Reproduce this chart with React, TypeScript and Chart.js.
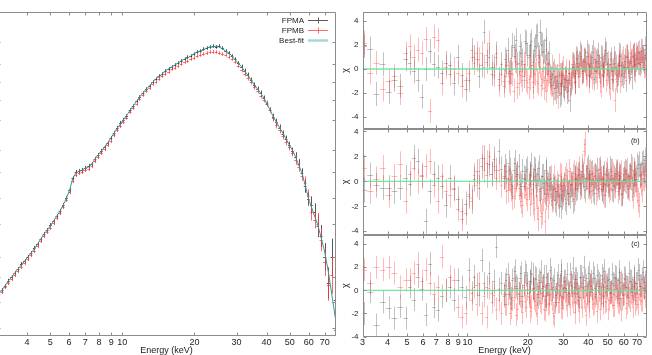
import React, { useEffect, useRef } from 'react';
import { Chart, registerables } from 'chart.js';
Chart.register(...registerables);

const FONT = '"Liberation Sans", Arial, Helvetica, sans-serif';
Chart.defaults.font.family = FONT;
Chart.defaults.color = '#222';

// ---------- shared axis ----------
const X_TICKS = [3, 4, 5, 6, 7, 8, 9, 10, 20, 30, 40, 50, 60, 70];
const X_MIN = 3;
const X_MAX = 78;

// ---------- spectrum (left) ----------
const SPEC_ENERGY = [
  3.05, 3.15, 3.25, 3.35, 3.45, 3.56, 3.67, 3.79, 3.91, 4.03,
  4.16, 4.29, 4.43, 4.57, 4.71, 4.86, 5.01, 5.17, 5.33, 5.50,
  5.67, 5.85, 6.03, 6.22, 6.41, 6.61, 6.81, 7.02, 7.24, 7.46,
  7.69, 7.93, 8.18, 8.43, 8.69, 8.96, 9.24, 9.53, 9.83, 10.1,
  10.4, 10.8, 11.1, 11.5, 11.8, 12.2, 12.6, 13.0, 13.4, 13.8,
  14.2, 14.7, 15.1, 15.6, 16.1, 16.6, 17.1, 17.6, 18.2, 18.7,
  19.3, 19.9, 20.5, 21.2, 21.8, 22.5, 23.2, 23.9, 24.7, 25.4,
  26.2, 27.0, 27.9, 28.7, 29.6, 30.5, 31.5, 32.4, 33.4, 34.5,
  35.6, 36.7, 37.8, 39.0, 40.2, 41.4, 42.7, 44.0, 45.4, 46.8,
  48.3, 49.8, 51.3, 52.9, 54.5, 56.2, 58.0, 59.8, 61.6, 63.5,
  65.5, 67.5, 70.0, 72.5, 75.0, 77.5,
];
const SPEC_FPMA = [
  1.82, 1.92, 2.03, 2.19, 2.31, 2.45, 2.59, 2.78, 2.90, 3.07,
  3.25, 3.49, 3.70, 3.97, 4.26, 4.51, 4.84, 5.13, 5.50, 5.91,
  6.44, 7.11, 7.96, 9.45, 10.28, 10.43, 10.59, 10.89, 11.20, 11.53,
  12.38, 13.10, 13.87, 14.68, 15.54, 16.68, 17.91, 19.23, 20.64, 21.54,
  22.80, 24.84, 26.29, 28.22, 29.88, 31.62, 33.47, 34.93, 36.98, 38.59,
  40.27, 41.43, 43.24, 44.49, 45.77, 47.09, 48.44, 49.84, 51.28, 52.76,
  53.51, 55.05, 56.64, 57.45, 59.10, 59.95, 60.81, 61.67, 60.81, 61.67,
  59.95, 57.45, 55.84, 53.51, 51.28, 48.44, 45.77, 43.24, 40.84, 38.04,
  35.44, 33.47, 31.62, 29.46, 27.04, 24.84, 22.48, 20.94, 19.23, 17.66,
  16.44, 15.10, 13.87, 12.73, 11.53, 10.14, 8.43, 7.01, 6.44, 5.83,
  4.78, 4.14, 3.07, 2.12, 3.07, 1.67,
];
const SPEC_FPMB = [
  1.79, 1.87, 2.01, 2.12, 2.25, 2.38, 2.52, 2.67, 2.82, 2.99,
  3.16, 3.35, 3.59, 3.86, 4.14, 4.39, 4.64, 4.98, 5.35, 5.74,
  6.26, 6.91, 7.74, 9.05, 9.86, 10.14, 10.28, 10.59, 10.74, 11.20,
  12.03, 12.73, 13.48, 14.27, 15.10, 15.99, 17.41, 18.69, 19.78, 20.94,
  22.16, 24.14, 25.55, 27.04, 29.05, 30.74, 32.53, 33.95, 35.94, 36.98,
  38.59, 40.27, 41.43, 42.62, 44.49, 45.13, 46.42, 47.76, 49.14, 49.84,
  51.28, 52.01, 53.51, 54.28, 55.05, 55.84, 56.64, 56.64, 56.64, 55.84,
  55.05, 54.28, 52.76, 51.28, 49.14, 46.42, 43.85, 41.43, 39.14, 36.98,
  34.44, 32.53, 30.31, 28.64, 27.43, 24.84, 22.16, 20.06, 18.69, 17.16,
  15.76, 14.68, 13.48, 12.20, 11.05, 9.72, 8.80, 7.31, 5.83, 5.20,
  4.91, 3.91, 2.86, 2.06, 2.38, 1.09,
];
const SPEC_MODEL = [
  1.82, 1.92, 2.06, 2.19, 2.31, 2.45, 2.59, 2.74, 2.90, 3.07,
  3.25, 3.44, 3.70, 3.97, 4.26, 4.51, 4.78, 5.13, 5.50, 5.91,
  6.44, 7.11, 7.96, 9.45, 10.14, 10.43, 10.59, 10.89, 11.05, 11.53,
  12.38, 13.10, 13.87, 14.68, 15.54, 16.68, 17.91, 19.23, 20.35, 21.54,
  22.80, 24.84, 26.29, 28.22, 29.88, 31.62, 33.47, 34.93, 36.98, 38.59,
  39.70, 41.43, 43.24, 44.49, 45.77, 47.09, 48.44, 49.84, 51.28, 52.01,
  53.51, 55.05, 56.64, 57.45, 58.27, 59.95, 60.81, 60.81, 61.67, 60.81,
  59.10, 57.45, 55.84, 53.51, 50.56, 48.44, 45.77, 43.24, 40.84, 38.04,
  35.44, 33.47, 31.62, 29.46, 27.04, 24.84, 22.48, 20.94, 19.23, 17.91,
  16.44, 15.10, 14.07, 12.73, 11.36, 10.14, 8.55, 7.11, 6.26, 5.50,
  4.84, 4.08, 3.30, 2.48, 1.79, 1.29,
];
const SPEC_REL_ERR = [
  0.03, 0.03, 0.03, 0.03, 0.03, 0.03, 0.03, 0.03, 0.03, 0.03,
  0.03, 0.03, 0.03, 0.03, 0.03, 0.03, 0.03, 0.03, 0.03, 0.03,
  0.03, 0.03, 0.03, 0.03, 0.03, 0.03, 0.03, 0.03, 0.03, 0.03,
  0.03, 0.03, 0.03, 0.03, 0.03, 0.03, 0.03, 0.03, 0.03, 0.03,
  0.025, 0.025, 0.025, 0.025, 0.025, 0.025, 0.025, 0.025, 0.025, 0.025,
  0.025, 0.025, 0.025, 0.025, 0.025, 0.025, 0.025, 0.025, 0.025, 0.025,
  0.025, 0.025, 0.025, 0.025, 0.025, 0.025, 0.025, 0.025, 0.025, 0.025,
  0.025, 0.025, 0.025, 0.025, 0.025, 0.025, 0.035, 0.035, 0.035, 0.035,
  0.035, 0.035, 0.035, 0.035, 0.035, 0.035, 0.05, 0.05, 0.05, 0.05,
  0.05, 0.05, 0.05, 0.07, 0.07, 0.07, 0.1, 0.1, 0.13, 0.13,
  0.17, 0.17, 0.22, 0.25, 0.3, 0.35,
];
const SPEC_Y_MIN = 1;
const SPEC_Y_MAX = 100;
const SPEC_Y_TICKS = [65.3, 47.8, 37.0, 28.6, 21.5, 14.1, 10.3, 7.1, 4.9, 3.07, 2.31, 1.62, 1.12];

// ---------- residuals (right) ----------
const RES_ENERGY = [
  3.05, 3.28, 3.52, 3.78, 4.05, 4.33, 4.63, 4.95,
  5.15, 5.40, 5.65, 5.92, 6.20, 6.50, 6.80, 7.12, 7.45, 7.80, 8.17, 8.55, 8.95, 9.37, 9.80,
  10.2, 10.5, 10.8, 11.1, 11.4, 11.75, 12.1, 12.45, 12.8, 13.2, 13.55, 13.95, 14.35, 14.75,
  15.2, 15.6, 16.05, 16.5, 17.0, 17.5, 18.0, 18.5, 19.05, 19.6,
  20.2, 20.6, 21.1, 21.5, 22.0, 22.5, 23.0, 23.5, 24.0, 24.5, 25.0, 25.6, 26.1, 26.7,
  27.3, 27.9, 28.5, 29.1, 29.7, 30.4, 31.0, 31.7, 32.4, 33.1, 33.8, 34.5, 35.3, 36.0,
  36.8, 37.6, 38.4, 39.3, 40.1, 41.0, 41.9, 42.8, 43.7, 44.7, 45.6, 46.6, 47.6, 48.7,
  49.7, 50.8, 51.9, 53.0, 54.2, 55.4, 56.6, 57.8, 59.1, 60.4, 61.7, 63.0, 64.4, 65.8,
  67.2, 68.7, 70.2, 71.7, 73.3, 74.9, 76.5,
];
// extra (interleaved) bins above 15 keV, where the binning gets dense
const RES_ENERGY_HI = [
  15.4, 15.85, 16.3, 16.75, 17.25, 17.75, 18.25, 18.8, 19.35, 19.9,
  20.4, 20.85, 21.3, 21.75, 22.25, 22.75, 23.25, 23.75, 24.25, 24.75,
  25.3, 25.85, 26.4, 27.0, 27.6, 28.2, 28.8, 29.4, 30.05, 30.7,
  31.35, 32.05, 32.75, 33.45, 34.15, 34.9, 35.65, 36.4, 37.2, 38.0,
  38.85, 39.7, 40.55, 41.45, 42.35, 43.25, 44.2, 45.15, 46.1, 47.1,
  48.15, 49.2, 50.25, 51.35, 52.45, 53.6, 54.8, 56.0, 57.2, 58.45,
  59.75, 61.05, 62.35, 63.7, 65.1, 66.5, 67.95, 69.45, 70.95, 72.5,
  74.1, 75.7, 77.2,
];
const RES_ERR = 1;
const RES_Y_TICKS = [-4, -2, 0, 2, 4];

const RES_A_FPMA = [
  1.9, 1.7, -2.1, 0.4, -1.9, -0.9, -1.4, 0.8, 0.5, -0.2,
  -0.9, -2.3, 0.0, 1.5, 0.4, 0.2, -0.3, 0.5, 0.3, -1.2,
  1.0, -0.5, -1.7, -0.9, 1.6, 1.0, 0.8, -0.6, 0.3, 3.1,
  0.6, 1.0, -0.4, 0.2, 1.3, -0.8, 0.4, -1.0, 0.6, -0.3,
  0.9, 1.8, 2.4, 0.5, 1.3, -0.6, 2.2, 1.0, 2.0, 0.3,
  1.6, 2.7, 1.2, 3.1, 2.0, 1.5, 2.4, 0.4, 1.3, -0.8,
  -0.4, -1.6, -0.6, -1.2, -2.0, -0.3, -1.5, -0.9, -1.8, -2.6,
  -0.7, 0.2, -1.1, 0.8, 0.5, 1.1, -0.2, 0.7, 1.4, -0.5,
  0.3, 1.0, -0.8, 0.6, 1.2, -0.3, 0.9, 0.1, 1.6, 0.4,
  -0.6, 0.8, -0.2, 0.5, -1.0, 0.3, 1.1, -0.4, 0.2, -0.9,
  0.6, 0.0, -0.7, 1.2, 0.4, 1.0, 0.5, 1.5, 0.8, 1.7,
];
const RES_A_FPMB = [
  2.2, -0.3, 0.5, -1.7, -1.0, -0.6, -2.0, 1.3, 1.9, 1.0,
  1.6, 1.3, 2.5, -3.5, 2.7, 2.4, -1.2, 0.2, -0.4, 0.0,
  -0.3, -1.4, -0.9, -0.3, 1.0, 0.5, 1.3, 0.8, 1.3, 0.2,
  1.2, 2.2, 0.2, -0.5, 1.0, -1.3, -0.4, -1.4, 0.3, -1.0,
  -0.3, -1.8, 0.6, -1.2, -0.5, 0.4, -0.9, -1.5, 0.2, -1.1,
  -0.3, 0.8, -1.2, 0.2, -0.8, -1.6, 0.5, -0.9, -0.2, -1.3,
  -2.0, -0.6, -1.4, 0.3, -1.2, -0.5, -1.7, -0.2, -0.9, -1.3,
  0.4, -0.3, -1.0, 0.5, -0.6, 0.9, -0.1, 0.6, -0.4, 1.0,
  0.2, -0.7, 0.8, -0.2, 0.5, -1.0, 0.3, -0.6, 1.2, -0.4,
  -1.2, 0.4, -0.9, -2.6, -0.5, 0.3, -1.0, 0.6, -0.3, 1.0,
  0.2, 1.3, 0.7, 1.1, -0.2, 0.9, 1.4, 0.6, 1.0, 0.3,
];
const RES_A_FPMA_HI = [
  0.8, 1.6, -0.2, 2.0, 1.1, 0.4, 1.9, 0.7, 2.3, 1.2,
  1.2, 2.3, 0.6, 1.9, 2.8, 1.0, 2.1, 1.4, 0.2, 1.7,
  0.5, -0.6, -1.3, -0.2, -1.9, -1.0, -2.2, -0.5, -1.4, -0.8,
  -1.9, -0.3, -1.2, 0.4, -0.6, 0.9, 0.2, 1.3, -0.3, 0.8,
  0.1, 1.1, -0.6, 0.5, 1.4, -0.2, 0.7, 0.2, 1.0, -0.5,
  0.6, 1.3, -0.1, 0.4, -0.8, 0.9, 0.2, -0.4, 1.2, 0.3,
  -0.6, 0.7, 1.0, -0.2, 0.5, 1.1, 0.0, 0.8, 1.3, 0.4,
  1.0, 0.6, 1.2,
];
const RES_A_FPMB_HI = [
  -0.6, 0.3, -1.2, -0.4, 0.7, -1.5, -0.2, -0.9, 0.4, -1.1,
  -0.8, 0.3, -1.5, -0.4, -1.0, 0.6, -1.3, -0.2, -0.9, -1.8,
  -0.4, -1.1, 0.2, -1.6, -0.7, -2.3, -0.5, -1.2, 0.1, -0.8,
  -1.5, -0.3, -0.9, 0.2, -1.1, 0.5, -0.6, 0.3, -0.2, 0.7,
  -0.5, 0.4, -1.0, 0.1, -0.3, 0.8, -0.7, 0.2, -1.4, -0.4,
  0.3, -0.9, 0.5, -1.6, -0.2, 0.4, -0.8, 0.1, 0.6, -0.5,
  0.9, 0.2, 1.1, -0.3, 0.7, 1.0, 0.3, 1.2, 0.5, 0.8,
  1.5, 0.2, 0.9,
];
const RES_B_FPMA = [
  -0.7, 0.5, -0.3, -0.5, -0.5, -0.8, -0.5, 0.3, -0.2, 1.9,
  1.6, 0.4, -3.2, -0.8, 0.6, 0.3, -0.4, -1.9, 0.3, -0.6,
  -1.4, -2.4, -1.8, -1.2, -1.6, 0.2, 0.8, -0.5, 1.2, 1.9,
  0.5, 1.4, 0.6, 1.8, 0.9, 2.4, 1.0, 0.3, 0.8, 1.5,
  -0.2, 0.9, 0.4, 1.2, -0.4, 0.3, 0.8, -0.5, 0.5, 0.1,
  1.0, -0.3, 0.6, -0.8, 0.4, -0.1, 0.9, -0.6, 0.2, -1.0,
  -0.4, -1.5, -0.8, -1.9, -0.6, -1.3, -0.3, -1.7, -0.9, -1.2,
  -0.2, -1.4, 0.3, -0.5, 0.6, -0.2, 0.4, -0.7, 0.9, 0.0,
  -0.4, 0.7, -0.9, 0.3, -0.3, 1.0, -0.6, 0.2, -1.1, 0.5,
  -0.2, 0.8, -0.7, 0.1, 0.6, -0.5, 0.4, -0.9, 0.2, 0.7,
  -0.3, 0.5, -0.6, 0.9, 0.1, 1.3, 1.4, 0.6, 1.5, 1.7,
];
const RES_B_FPMB = [
  1.1, -0.8, 0.2, 1.1, -1.1, 0.4, 1.4, -1.6, 0.6, 1.1,
  0.0, 0.5, 1.2, 1.6, -0.3, -1.6, 0.4, -0.8, -1.1, -0.5,
  -2.2, -3.0, -2.5, -1.0, -1.3, 0.5, -0.3, 0.8, 1.9, 0.9,
  1.5, 2.0, 0.6, 1.2, 0.3, 0.9, -0.3, 0.4, -0.8, 0.2,
  -0.6, -1.2, 0.1, -0.5, -1.6, -0.4, -1.0, -0.2, -1.8, -0.6,
  -2.2, -1.1, -3.0, -1.5, -2.5, -0.7, -1.3, -0.1, -0.9, 0.3,
  -1.4, -0.5, -0.2, -1.2, 0.4, -0.8, -0.3, 0.5, -1.0, 0.1,
  -0.6, 0.7, -0.3, 0.2, 1.0, -0.4, 0.6, 3.0, 0.3, -0.5,
  0.8, -0.2, 0.4, -0.9, 0.1, 0.7, -0.6, 0.3, -0.2, 0.9,
  -0.7, 0.2, 0.5, -0.4, 0.8, -0.1, 0.3, -1.0, 0.6, 0.0,
  -0.5, 0.4, 1.0, -0.3, 0.6, -0.8, -1.9, -0.2, 0.3, 0.5,
];
const RES_B_FPMA_HI = [
  1.2, 0.3, 0.9, -0.4, 1.5, 0.6, -0.2, 0.8, 0.2, 1.0,
  0.6, 1.3, -0.2, 0.9, 0.1, 1.1, -0.5, 0.4, -0.9, 0.7,
  -0.3, 0.2, -1.2, -0.6, -1.8, -0.4, -1.1, -2.0, -0.7, -1.4,
  0.0, -0.9, -0.3, -1.6, 0.2, -0.6, 0.5, -0.1, 0.8, -0.4,
  0.3, 1.1, -0.2, 0.6, -0.7, 0.4, 0.9, -0.5, 0.2, -0.8,
  0.6, 0.1, -0.3, 1.0, -0.6, 0.3, 0.7, -0.2, 0.5, -1.0,
  0.1, 0.8, -0.4, 0.4, 1.2, -0.1, 0.6, 0.2, 1.1, 0.5,
  1.4, 0.8, 1.9,
];
const RES_B_FPMB_HI = [
  0.4, -0.7, 0.1, -1.3, -0.5, 0.6, -1.1, -1.9, -0.4, -1.4,
  0.2, -0.9, -1.7, 0.4, -2.1, -0.6, -2.8, -1.4, -3.2, -1.0,
  -2.0, -0.4, -1.5, 0.3, -0.8, -1.2, 0.5, -0.3, -1.0, 0.2,
  -0.6, 0.8, -0.2, 0.4, -0.9, 0.6, 0.1, -0.5, 1.2, 2.4,
  0.3, -0.4, 0.7, -0.8, 0.2, 0.5, -0.6, 0.9, -0.2, 0.3,
  -1.1, 0.6, 0.0, -0.5, 0.8, -0.3, 0.4, -0.8, 0.2, 0.7,
  -0.4, 0.1, 0.9, -0.6, 0.3, -1.2, 0.5, -0.2, -1.5, 0.4,
  -0.7, 0.2, 0.6,
];
const RES_C_FPMA = [
  -2.0, -0.1, -3.0, -1.0, -1.5, -2.4, -1.4, -2.4, 0.3, -0.8,
  1.2, 0.1, -2.1, 2.3, -1.4, -1.7, -0.5, 0.0, 0.3, -0.8,
  0.9, 0.3, -0.6, 1.8, -0.2, 1.2, 0.5, -0.4, 2.6, 0.6,
  0.3, 1.5, -0.2, 0.8, 3.8, 0.1, 0.6, -0.5, 0.9, 0.2,
  -0.7, 1.1, 0.4, -0.3, 1.5, 0.5, 1.3, -0.2, 0.8, 1.4,
  0.0, 1.0, -0.6, 0.7, 0.2, 1.2, -0.8, 0.5, -0.4, 1.1,
  0.3, -1.0, 0.6, 0.1, 1.3, -0.5, 0.8, 0.2, -0.3, 1.4,
  0.4, -0.2, 1.0, 0.6, -0.6, 1.2, 0.3, 0.9, -0.4, 1.5,
  0.5, 0.1, 1.1, -0.3, 0.8, 0.4, 1.3, -0.5, 0.7, 0.2,
  1.0, -0.1, 0.6, 1.2, 0.0, 0.9, -0.7, 0.5, 1.1, 0.3,
  -0.4, 0.8, 0.2, 1.0, -0.2, 0.6, 1.3, 0.4, 1.6, 0.7,
];
const RES_C_FPMB = [
  1.8, 0.6, 2.0, 1.8, 2.0, 1.5, 0.3, 0.9, 0.9, 1.5,
  2.3, 0.8, 1.8, 0.6, -0.3, 0.3, 2.9, 0.0, 1.2, 0.9,
  -1.4, -2.3, -2.0, 0.1, -0.8, 0.3, -1.2, 0.6, -2.0, -0.5,
  -2.3, 0.2, -1.0, -0.4, -1.6, -0.8, -2.0, -0.3, -1.2, 0.4,
  -1.5, -0.6, -2.1, -0.2, -0.9, 0.3, -1.4, -0.5, -1.8, 0.1,
  -0.7, -1.3, 0.4, -0.9, -0.2, -1.6, -0.4, 0.5, -1.1, -0.3,
  -2.0, -0.6, 0.2, -1.0, -0.4, -1.5, 0.3, -0.8, -0.1, -1.2,
  -0.5, 0.6, -1.0, -0.3, -1.8, -0.6, 0.2, -0.9, -0.2, -1.4,
  0.4, -0.7, -1.1, 0.0, -0.6, -1.6, 0.3, -0.4, -1.0, 0.5,
  -0.8, -0.2, -1.3, 0.1, -0.5, -1.1, 0.6, -0.7, -0.3, -1.5,
  0.2, -0.9, -0.4, 0.4, -1.2, -0.6, 0.1, -0.8, 0.3, -0.5,
];
const RES_C_FPMA_HI = [
  0.5, 1.4, -0.3, 0.9, 1.7, 0.2, 1.1, -0.5, 1.6, 0.6,
  0.8, 1.5, 0.2, 1.1, -0.3, 0.9, 1.6, 0.4, -0.5, 1.2,
  0.6, 1.8, 0.1, 0.9, -0.4, 1.3, 0.5, 1.7, 0.2, 0.8,
  1.4, -0.2, 0.7, 1.9, 0.3, 1.0, -0.5, 1.2, 0.6, 2.0,
  0.4, 1.1, -0.1, 0.8, 1.5, 0.2, 1.3, 0.6, -0.3, 1.0,
  1.7, 0.4, 0.9, -0.2, 1.4, 0.5, 1.1, 0.1, 1.6, 0.7,
  -0.4, 1.0, 0.3, 1.5, 0.8, -0.1, 1.2, 0.6, 1.8, 0.4,
  1.0, 0.2, 1.3,
];
const RES_C_FPMB_HI = [
  -1.2, -0.3, -2.0, -0.8, 0.2, -1.6, -0.5, -1.9, -0.9, 0.1,
  -0.6, -1.4, 0.2, -0.9, -2.0, -0.3, -1.1, 0.4, -1.7, -0.5,
  -1.2, 0.1, -0.8, -2.2, -0.4, -1.0, 0.3, -1.5, -0.7, -0.1,
  -1.3, -0.5, 0.5, -1.0, -1.9, -0.2, -0.8, 0.2, -1.4, -0.6,
  -2.1, -0.3, -0.9, 0.4, -1.2, -0.5, -1.8, 0.0, -0.7, -1.1,
  0.3, -0.9, -1.6, -0.2, -0.6, -1.3, 0.2, -1.0, -0.4, -1.7,
  -0.3, 0.5, -1.1, -0.6, -0.2, -1.4, 0.1, -0.8, -1.2, -0.3,
  -0.9, 0.2, -0.6,
];

// ---------- helpers ----------
function binEdges(E: number[], i: number, frac: number) {
  const prev = i > 0 ? E[i - 1] : (E[i] * E[i]) / E[i + 1];
  const next = i < E.length - 1 ? E[i + 1] : (E[i] * E[i]) / E[i - 1];
  return [E[i] * Math.pow(prev / E[i], frac), E[i] * Math.pow(next / E[i], frac)];
}

function specPoints(vals: number[]) {
  return SPEC_ENERGY.map((e, i) => {
    const [xl, xh] = binEdges(SPEC_ENERGY, i, 0.42);
    const r = SPEC_REL_ERR[i];
    const v = vals[i];
    return { x: e, y: v, xl, xh, yl: v / (1 + r), yh: v * (1 + r) };
  });
}

function resPoints(E: number[], vals: number[], frac: number) {
  return E.map((e, i) => {
    const [xl, xh] = binEdges(E, i, frac);
    return { x: e, y: vals[i], xl, xh, yl: vals[i] - RES_ERR, yh: vals[i] + RES_ERR };
  });
}

const errorBarPlugin = {
  id: 'errorBars',
  beforeDatasetsDraw(chart: any) {
    const { ctx, chartArea: a } = chart;
    const xs = chart.scales.x;
    const ys = chart.scales.y;
    ctx.save();
    ctx.beginPath();
    ctx.rect(a.left, a.top, a.right - a.left, a.bottom - a.top);
    ctx.clip();
    ctx.lineWidth = 1;
    chart.data.datasets.forEach((ds: any) => {
      if (!ds.errorBars) return;
      ctx.strokeStyle = ds.errorColor;
      for (const p of ds.data) {
        const px = Math.round(xs.getPixelForValue(p.x)) + 0.5;
        const py = Math.round(ys.getPixelForValue(p.y)) + 0.5;
        ctx.beginPath();
        ctx.moveTo(xs.getPixelForValue(p.xl), py);
        ctx.lineTo(xs.getPixelForValue(p.xh), py);
        ctx.moveTo(px, ys.getPixelForValue(p.yh));
        ctx.lineTo(px, ys.getPixelForValue(p.yl));
        ctx.stroke();
      }
    });
    ctx.restore();
  },
};

function makeFrame(o: any) {
  return {
    id: 'frame',
    afterDraw(chart: any) {
      const { ctx, chartArea: a } = chart;
      const xs = chart.scales.x;
      const ys = chart.scales.y;
      const L = Math.round(a.left) + 0.5;
      const R = Math.round(a.right) - 0.5;
      const T = Math.round(a.top) + 0.5;
      const B = Math.round(a.bottom) - 0.5;
      ctx.save();
      ctx.lineWidth = 1;
      ctx.strokeStyle = '#8c8c8c';
      ctx.beginPath();
      ctx.rect(L, T, R - L, B - T);
      ctx.stroke();
      ctx.beginPath();
      for (const v of o.xTicks) {
        const px = Math.round(xs.getPixelForValue(v)) + 0.5;
        ctx.moveTo(px, T);
        ctx.lineTo(px, T + o.tick);
        ctx.moveTo(px, B);
        ctx.lineTo(px, B - o.tick);
      }
      for (const v of o.yTicks) {
        const py = Math.round(ys.getPixelForValue(v)) + 0.5;
        ctx.moveTo(L, py);
        ctx.lineTo(L + o.tick, py);
        ctx.moveTo(R, py);
        ctx.lineTo(R - o.tick, py);
      }
      ctx.stroke();
      if (o.tag) {
        ctx.fillStyle = '#222';
        ctx.font = `7px ${FONT}`;
        ctx.textAlign = 'right';
        ctx.textBaseline = 'middle';
        ctx.fillText(o.tag, a.right - 7, a.top + o.tagDy);
      }
      if (o.legend) {
        o.legend.forEach((it: any) => {
          const ds = chart.data.datasets[it.index];
          const y = Math.round(a.top + it.dy) + 0.5;
          ctx.fillStyle = '#222';
          ctx.font = `8px ${FONT}`;
          ctx.textAlign = 'right';
          ctx.textBaseline = 'middle';
          ctx.fillText(ds.label, a.right - 32, y);
          ctx.strokeStyle = it.color;
          ctx.lineWidth = it.width;
          ctx.beginPath();
          ctx.moveTo(a.right - 28, y);
          ctx.lineTo(a.right - 8, y);
          if (it.cross) {
            const cx = Math.round(a.right - 18) + 0.5;
            ctx.moveTo(cx, y - 3);
            ctx.lineTo(cx, y + 3);
          }
          ctx.stroke();
        });
      }
      ctx.restore();
    },
  };
}

const xLabelTicks = (vals: number[]) => (s: any) => {
  s.ticks = vals.map((v) => ({ value: v }));
};
const fitX = (h: number) => (s: any) => {
  s.height = h;
  s.paddingLeft = 0;
  s.paddingRight = 0;
  s.paddingTop = 0;
  s.paddingBottom = 0;
};
const fitY = (w: number) => (s: any) => {
  s.width = w;
  s.paddingLeft = 0;
  s.paddingRight = 0;
  s.paddingTop = 0;
  s.paddingBottom = 0;
};

function spectrumConfig(): any {
  return {
    type: 'scatter',
    data: {
      datasets: [
        { label: 'FPMA', data: specPoints(SPEC_FPMA), errorBars: true, errorColor: 'rgba(45,45,45,0.8)', pointRadius: 0, pointHoverRadius: 0 },
        { label: 'FPMB', data: specPoints(SPEC_FPMB), errorBars: true, errorColor: 'rgba(255,55,55,0.75)', pointRadius: 0, pointHoverRadius: 0 },
        {
          type: 'line', label: 'Best-fit',
          data: SPEC_ENERGY.map((e, i) => ({ x: e, y: SPEC_MODEL[i] })),
          borderColor: '#2f9c9c', borderWidth: 1, pointRadius: 0, fill: false, tension: 0,
        },
      ],
    },
    options: {
      responsive: false,
      animation: false,
      events: [],
      layout: { padding: { top: 12, right: 2, left: 0, bottom: 0 } },
      plugins: { legend: { display: false }, tooltip: { enabled: false } },
      scales: {
        x: {
          type: 'logarithmic', min: X_MIN, max: X_MAX, bounds: 'data',
          grid: { display: false, drawTicks: false }, border: { display: false },
          afterBuildTicks: xLabelTicks(X_TICKS.slice(1)),
          afterFit: fitX(19),
          ticks: { autoSkip: false, maxRotation: 0, padding: 1, font: { size: 9 }, color: '#222', callback: (v: any) => String(v) },
          title: { display: true, text: 'Energy (keV)', font: { size: 9, lineHeight: 1 }, padding: 0, color: '#222' },
        },
        y: {
          type: 'logarithmic', min: SPEC_Y_MIN, max: SPEC_Y_MAX, bounds: 'data', display: false,
          grid: { display: false, drawTicks: false },
          afterFit: fitY(0),
        },
      },
    },
    plugins: [
      errorBarPlugin,
      makeFrame({
        xTicks: X_TICKS, yTicks: SPEC_Y_TICKS, tick: 3,
        legend: [
          { index: 0, dy: 8, color: '#5a5a5a', width: 1, cross: true },
          { index: 1, dy: 18, color: '#ff6a6a', width: 1, cross: true },
          { index: 2, dy: 28, color: '#a6d8d8', width: 2.5, cross: false },
        ],
      }),
    ],
  };
}

const RES_BLACK = 'rgba(70,70,70,0.33)';
const RES_RED = 'rgba(255,45,45,0.33)';

function residualConfig(p: any): any {
  return {
    type: 'scatter',
    data: {
      datasets: [
        { label: 'FPMA', data: resPoints(RES_ENERGY, p.a, 0.5), errorBars: true, errorColor: RES_BLACK, pointRadius: 0, pointHoverRadius: 0 },
        { label: 'FPMA hi', data: resPoints(RES_ENERGY_HI, p.aHi, 0.5), errorBars: true, errorColor: RES_BLACK, pointRadius: 0, pointHoverRadius: 0 },
        { label: 'FPMB', data: resPoints(RES_ENERGY, p.b, 0.5), errorBars: true, errorColor: RES_RED, pointRadius: 0, pointHoverRadius: 0 },
        { label: 'FPMB hi', data: resPoints(RES_ENERGY_HI, p.bHi, 0.5), errorBars: true, errorColor: RES_RED, pointRadius: 0, pointHoverRadius: 0 },
        {
          type: 'line', label: 'zero',
          data: [{ x: X_MIN, y: 0 }, { x: X_MAX, y: 0 }],
          borderColor: 'rgba(100,230,150,0.9)', borderWidth: 1.3, pointRadius: 0, fill: false,
        },
      ],
    },
    options: {
      responsive: false,
      animation: false,
      events: [],
      layout: { padding: { top: p.padTop, right: 5.5, left: 0, bottom: 0 } },
      plugins: { legend: { display: false }, tooltip: { enabled: false } },
      scales: {
        x: {
          type: 'logarithmic', min: X_MIN, max: X_MAX, bounds: 'data', display: p.showX,
          grid: { display: false, drawTicks: false }, border: { display: false },
          afterBuildTicks: xLabelTicks(X_TICKS),
          afterFit: fitX(p.showX ? 18.5 : 0),
          ticks: { autoSkip: false, maxRotation: 0, padding: 1, font: { size: 9 }, color: '#222', callback: (v: any) => String(v) },
          title: { display: true, text: 'Energy (keV)', font: { size: 9, lineHeight: 1 }, padding: 0, color: '#222' },
        },
        y: {
          type: 'linear', min: p.yMin, max: p.yMax, bounds: 'data',
          grid: { display: false, drawTicks: false }, border: { display: false },
          afterBuildTicks: (s: any) => { s.ticks = RES_Y_TICKS.map((v) => ({ value: v })); },
          afterFit: fitY(22.5),
          ticks: { padding: 4, font: { size: 8 }, color: '#222', callback: (v: any) => String(v) },
          title: { display: true, text: 'χ', font: { size: 9, lineHeight: 1 }, padding: { top: 1, bottom: 0 }, color: '#222' },
        },
      },
    },
    plugins: [errorBarPlugin, makeFrame({ xTicks: X_TICKS, yTicks: RES_Y_TICKS, tick: 3, tag: p.tag, tagDy: p.tagDy })],
  };
}

function ChartCanvas({ left, top, width, height, make }: any) {
  const ref = useRef<HTMLCanvasElement | null>(null);
  useEffect(() => {
    const chart = new Chart(ref.current as any, make());
    return () => chart.destroy();
  }, []);
  return (
    <canvas
      ref={ref}
      width={width}
      height={height}
      style={{ position: 'absolute', left, top, width, height }}
    />
  );
}

export default function App() {
  return (
    <div style={{ position: 'absolute', left: 0, top: 0, width: 652, height: 355, overflow: 'hidden', background: '#fff' }}>
      <ChartCanvas left={-3} top={0} width={341} height={355} make={spectrumConfig} />
      <ChartCanvas left={340} top={0} width={312} height={129}
        make={() => residualConfig({ a: RES_A_FPMA, b: RES_A_FPMB, aHi: RES_A_FPMA_HI, bHi: RES_A_FPMB_HI, yMin: -5, yMax: 4.75, padTop: 12, showX: false })} />
      <ChartCanvas left={340} top={129} width={312} height={106}
        make={() => residualConfig({ a: RES_B_FPMA, b: RES_B_FPMB, aHi: RES_B_FPMA_HI, bHi: RES_B_FPMB_HI, yMin: -4.3, yMax: 4.2, padTop: 0, showX: false, tag: '(b)', tagDy: 12 })} />
      <ChartCanvas left={340} top={235} width={312} height={120}
        make={() => residualConfig({ a: RES_C_FPMA, b: RES_C_FPMB, aHi: RES_C_FPMA_HI, bHi: RES_C_FPMB_HI, yMin: -4, yMax: 4.8, padTop: 0, showX: true, tag: '(c)', tagDy: 9 })} />
    </div>
  );
}
